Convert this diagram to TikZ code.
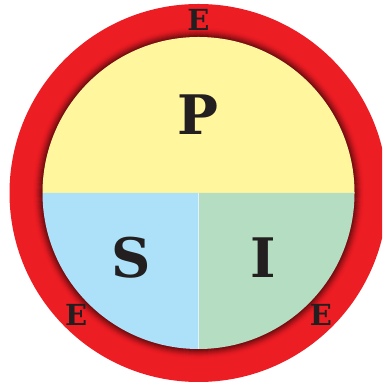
\documentclass[tikz,border=0pt]{standalone}
\usepackage{fontspec}
\newfontfamily\slabfont{DejaVu Serif}
\usetikzlibrary{math, calc}
\definecolor{ringred}{RGB}{237,29,36}
\definecolor{pyellow}{RGB}{255,246,157}
\definecolor{sblue}{RGB}{172,225,249}
\definecolor{igreen}{RGB}{180,221,194}
\definecolor{letterblack}{RGB}{35,31,32}

\tikzset{
  letter/.style={text=letterblack, font=\slabfont\bfseries\fontsize{31}{31}\selectfont, inner sep=0pt},
  ringletter/.style={text=letterblack, font=\slabfont\bfseries\fontsize{16.5}{16.5}\selectfont, inner sep=0pt}
}

\begin{document}
\begin{tikzpicture}[x=0.02cm, y=0.02cm]
\tikzmath{
\R=189;
\r=156;
\rE=173;
}
\useasboundingbox (0,0) rectangle (382,384);
\clip (0,0) rectangle (382,384);
\coordinate (c) at (198.5,191);

% outer ring
\fill[ringred] (c) circle (\R);
\foreach \k in {0,...,9}
  \draw[black!70!ringred, line width=1.2, opacity={0.5*(1-\k/10)^2}] (c) circle (\r+\k);

% inner sectors
\fill[pyellow] ($(c)+(-\r,0)$) arc (180:0:\r) -- cycle;
\fill[sblue] (c) -- ($(c)+(-\r,0)$) arc (180:270:\r) -- cycle;
\fill[igreen] (c) -- ($(c)+(0,-\r)$) arc (270:360:\r) -- cycle;
\draw[white!60!sblue, line width=0.8] (c) -- ($(c)+(0,-\r)$);

\node[letter] (P) at (198,269) {P};
\node[letter] (S) at (131,126) {S};
\node[letter] (I) at (263,126) {I};

\node[ringletter] (Etop) at ($(c)+(90:\rE)$) {E};
\node[ringletter] (Eleft) at ($(c)+(225:\rE)$) {E};
\node[ringletter] (Eright) at ($(c)+(315:\rE)$) {E};
\end{tikzpicture}
\end{document}
